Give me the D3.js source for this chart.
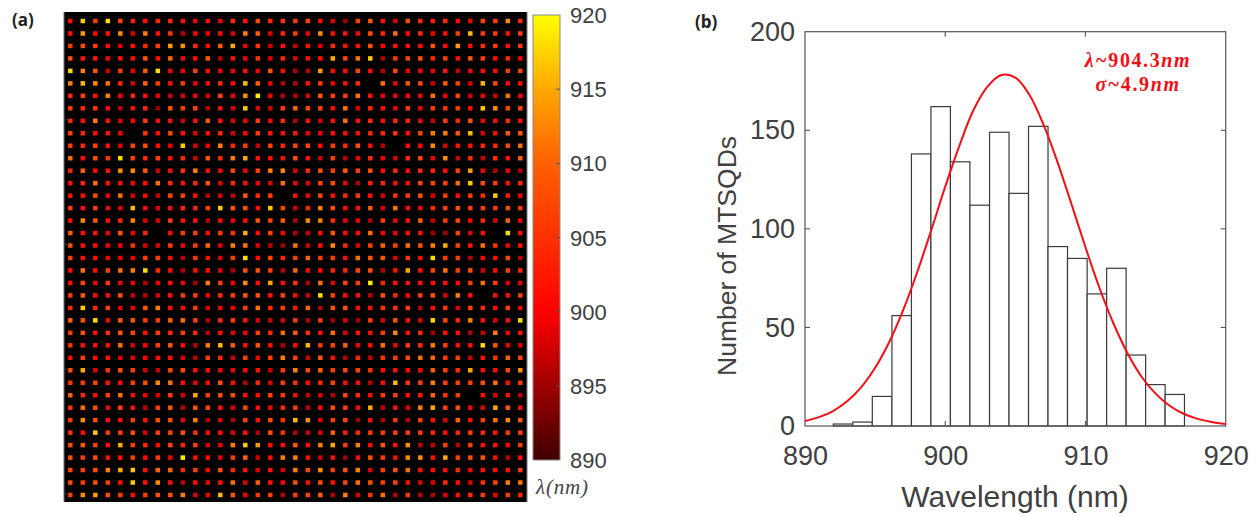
<!DOCTYPE html>
<html><head><meta charset="utf-8">
<script src="https://cdn.jsdelivr.net/npm/d3@7"></script>
<style>html,body{margin:0;padding:0;background:#fff;overflow:hidden}svg{display:block}</style>
</head><body>
<svg id="c" width="1260" height="517"></svg>
<script>
// Panel (a): peak wavelength (nm) of each dot, row by row; null = no dot visible
const N = null;
const dotWavelengths = [
[901,917,906,918,907,903,901,904,904,901,899,901,899,904,901,908,904,905,906,907,901,898,895,907,909,901,898,908,904,903,904,901,899,907,906,913,904],
[901,914,901,901,913,898,912,901,905,896,900,899,901,898,912,910,898,904,906,899,913,901,901,900,908,904,911,901,904,899,901,906,916,906,906,901,907],
[906,908,906,901,898,901,904,906,914,913,904,901,909,915,899,905,897,901,897,901,898,904,901,901,908,900,901,901,901,909,901,914,901,904,906,901,906],
[908,902,902,899,901,901,909,901,910,899,901,909,896,901,899,905,898,904,898,901,901,915,907,911,917,896,905,907,908,904,906,901,909,906,901,904,899],
[918,912,909,897,906,899,909,918,899,899,906,901,899,899,901,899,909,901,896,896,914,901,901,907,901,896,907,899,900,899,902,897,899,901,901,906,907],
[912,916,913,911,904,898,910,906,901,906,899,901,904,901,916,910,899,896,896,901,906,899,901,904,N,911,899,909,907,897,909,906,898,916,907,901,901],
[904,907,901,912,899,904,901,899,897,898,899,898,907,899,913,919,899,896,896,898,909,906,906,911,901,899,899,900,899,911,899,907,897,899,897,911,899],
[906,904,905,901,896,901,904,894,908,906,907,896,901,898,917,898,897,906,910,907,907,901,911,898,904,901,899,906,899,906,905,906,901,917,913,907,907],
[904,901,912,901,898,900,906,901,901,897,901,909,901,898,899,906,899,904,896,901,897,901,911,901,904,901,904,904,899,897,906,904,908,899,901,904,901],
[906,904,901,901,899,N,905,901,907,901,898,901,904,898,900,906,902,901,902,899,899,901,901,901,904,904,905,901,907,912,912,909,916,898,901,909,909],
[906,904,907,901,898,907,908,901,899,917,898,899,912,904,906,897,907,904,907,907,901,906,904,908,901,896,N,901,900,913,898,901,901,904,904,907,911],
[911,901,908,905,918,906,904,906,901,904,897,909,904,912,915,901,901,901,908,901,897,906,896,899,904,899,898,904,907,899,913,897,904,897,905,901,910],
[904,910,901,901,913,913,909,897,901,905,912,901,899,907,899,906,912,913,898,904,908,907,909,906,908,901,904,901,904,904,901,907,914,899,896,899,896],
[901,904,911,901,901,899,901,911,904,901,904,909,898,904,901,899,898,911,899,898,907,908,899,896,903,904,901,901,907,907,906,911,917,908,906,901,904],
[901,901,908,899,911,898,901,897,907,906,901,896,898,897,909,904,906,N,901,899,907,901,904,906,901,898,905,906,908,898,906,901,906,904,917,903,899],
[906,901,906,899,898,916,901,898,901,904,904,906,917,909,908,901,917,907,897,904,912,908,901,901,909,898,911,901,899,904,906,908,906,906,905,908,905],
[901,913,909,901,904,912,898,898,906,901,901,896,901,899,901,908,907,909,896,913,912,905,899,899,896,906,899,901,910,897,906,907,900,904,898,910,899],
[909,901,902,899,909,899,904,N,901,906,906,901,906,905,915,901,907,900,896,897,901,909,901,901,911,900,899,901,901,895,895,907,898,901,N,918,901],
[908,901,901,899,899,905,898,898,906,899,906,910,898,912,911,898,896,895,911,897,901,913,904,898,907,910,906,911,908,912,915,906,902,911,905,899,901],
[906,901,901,899,899,899,906,906,901,896,905,901,898,906,918,901,907,904,906,910,906,906,901,911,909,909,898,905,901,918,906,906,896,900,901,907,896],
[901,911,901,906,911,912,918,904,901,896,901,901,898,896,908,908,906,896,910,901,901,904,904,907,908,896,901,915,901,907,911,906,908,898,901,906,904],
[901,907,899,906,899,899,896,899,901,899,895,912,906,899,913,901,915,901,905,896,911,898,907,906,919,904,901,901,901,901,901,900,906,911,906,898,898],
[906,909,901,901,908,897,896,898,901,906,906,899,904,906,909,908,901,907,901,897,918,906,901,901,896,908,904,901,906,908,898,912,901,N,901,901,906],
[904,917,904,906,898,899,909,912,901,900,906,898,899,899,906,911,904,906,902,910,896,908,908,901,901,905,905,906,896,901,905,898,907,904,901,906,899],
[910,908,918,899,909,909,906,906,910,911,907,896,904,906,901,898,897,898,906,896,906,895,898,895,906,898,908,901,898,918,907,904,912,901,898,901,918],
[906,908,901,904,909,907,901,906,904,906,904,896,901,898,899,906,904,911,909,904,901,911,898,901,901,906,913,901,904,895,901,901,896,897,912,899,901],
[905,901,901,901,911,898,900,906,909,901,896,912,916,909,901,909,901,896,901,916,906,907,910,899,901,911,899,906,904,912,906,901,901,918,909,899,898],
[901,906,901,901,898,898,900,901,901,898,896,906,904,897,906,899,906,912,906,897,909,901,896,904,897,905,906,908,911,910,906,906,897,901,905,910,907],
[908,915,898,905,908,906,898,897,907,908,901,901,899,899,900,901,897,906,912,907,910,906,907,907,905,901,901,901,900,909,906,904,915,901,901,907,913],
[905,906,907,901,901,906,908,913,911,901,899,901,908,901,896,904,898,906,905,901,904,907,901,901,896,901,916,906,906,912,906,906,906,908,911,901,906],
[910,904,901,906,911,901,899,898,906,898,915,906,908,908,901,901,907,906,901,897,898,896,907,904,901,906,906,901,902,910,905,906,N,901,898,901,896],
[905,911,908,899,906,901,896,906,909,896,908,907,901,898,907,901,899,904,906,896,901,908,906,901,915,897,901,898,912,915,906,908,900,898,915,909,901],
[906,913,908,901,901,906,901,908,908,899,912,896,898,896,906,901,908,905,916,913,898,906,907,895,901,896,905,896,906,901,898,910,901,906,911,913,909],
[905,901,917,906,906,908,898,906,907,908,905,901,901,898,901,896,908,905,896,897,898,910,903,904,906,906,906,906,906,904,901,904,906,904,902,906,906],
[908,909,907,901,915,906,904,901,907,904,906,898,899,912,917,914,901,901,909,901,912,915,906,912,901,909,901,913,896,897,906,896,906,901,901,900,906],
[908,906,908,901,901,906,901,906,899,919,901,901,898,906,910,897,901,912,912,901,897,901,895,901,908,906,901,913,913,901,915,906,908,909,901,896,901],
[907,906,908,912,915,917,901,910,910,904,906,900,908,904,901,898,901,898,912,907,913,906,908,912,898,906,908,911,901,901,901,904,899,901,901,901,906],
[908,906,908,906,901,917,901,913,901,896,901,899,901,911,898,910,901,900,908,901,908,901,907,911,908,906,906,901,898,898,904,901,898,905,907,912,911],
[906,913,914,908,906,901,906,908,908,912,898,899,916,909,899,905,906,896,906,907,910,896,912,898,905,911,896,906,896,896,898,901,904,906,899,906,904]
];
const colorbarTicks = [890,895,900,905,910,915,920];
const colorStops = [890,900,910,915,920];
const colorValues = ["#400000","#ff0000","#ff6000","#ffa800","#ffff00"];

// Panel (b): histogram and fitted curve
const binEdges = [892.02,893.41,894.8,896.2,897.59,898.98,900.37,901.76,903.16,904.55,905.94,907.33,908.72,910.12,911.51,912.9,914.29,915.68,917.06];
const binCounts = [1,2,15,56,138,162,134,112,149,118,152,91,85,67,80,36,21,16];
const curveWavelengths = [890,891,892,893,894,895,896,897,898,899,900,901,902,903,904,905,906,907,908,909,910,911,912,913,914,915,916,917,918,919,920];
const curveCounts = [2.5,4.5,7.6,12.5,19.6,29.5,42.5,58.8,78,99.3,121.4,142,160,172,178,176.7,168,153,134,112.6,90.7,70,52,36.9,25,16.4,10.3,6.2,3.6,2,1];
const xTicks = [890,900,910,920];
const yTicks = [0,50,100,150,200];

const svg = d3.select("#c");
const SANS = "'Liberation Sans',Arial,sans-serif";
const AXIS = "#555", TEXT = "#404040";

// ---------- defs
const defs = svg.append("defs");
defs.append("filter").attr("id","soft").attr("x","-50%").attr("y","-50%").attr("width","200%").attr("height","200%")
  .append("feGaussianBlur").attr("stdDeviation",0.55);
const color = d3.scaleLinear().domain(colorStops).range(colorValues);
const grad = defs.append("linearGradient").attr("id","bar").attr("x1",0).attr("x2",0).attr("y1",1).attr("y2",0);
const cbExtent = d3.extent(colorStops);
colorStops.forEach(v => grad.append("stop")
  .attr("offset",(v-cbExtent[0])/(cbExtent[1]-cbExtent[0])).attr("stop-color",color(v)));

// ---------- panel (a)
const px = d3.scalePoint().domain(d3.range(dotWavelengths[0].length)).range([70.3,520.3]);
const py = d3.scalePoint().domain(d3.range(dotWavelengths.length)).range([21,495]);
const a = svg.append("g");
a.append("rect").attr("x",64).attr("y",12).attr("width",463).attr("height",490).attr("fill","#000");
a.append("line").attr("x1",64).attr("x2",64).attr("y1",12).attr("y2",502).attr("stroke","#777").attr("stroke-width",1);
a.append("line").attr("x1",527).attr("x2",527).attr("y1",12).attr("y2",502).attr("stroke","#777").attr("stroke-width",1);
const SZ = 4.5;
a.append("g").attr("filter","url(#soft)").selectAll("g").data(dotWavelengths).join("g")
  .attr("transform",(d,i)=>`translate(0,${py(i)})`)
  .selectAll("rect").data(d=>d.map((v,i)=>({v,i})).filter(o=>o.v!==null)).join("rect")
  .attr("x",o=>px(o.i)-SZ/2).attr("y",-SZ/2).attr("width",SZ).attr("height",SZ).attr("fill",o=>color(o.v));
a.append("g").selectAll("line").data([8,18,28,38]).join("line")
  .attr("x1",64).attr("x2",69).attr("y1",r=>py(r)-1).attr("y2",r=>py(r)-1).attr("stroke","#3a3a3a");

// colorbar
const cy = d3.scaleLinear().domain([890,920]).range([460,15]);
a.append("rect").attr("x",533).attr("y",cy(920)).attr("width",27).attr("height",cy(890)-cy(920))
  .attr("fill","url(#bar)").attr("stroke","#888").attr("stroke-width",1);
const cbTicks = a.append("g").selectAll("g").data(colorbarTicks).join("g").attr("transform",v=>`translate(0,${cy(v)})`);
cbTicks.filter(v=>v>890&&v<920).append("line").attr("x1",556).attr("x2",560).attr("stroke","#555");
cbTicks.append("text").attr("x",570).attr("y",8).text(v=>v)
  .attr("font-family",SANS).attr("font-size",22).attr("fill",TEXT);
a.append("text").attr("x",536).attr("y",494).attr("font-family","'Liberation Serif',serif").attr("font-style","italic")
  .attr("font-size",21).attr("fill","#444").attr("letter-spacing",0.8).text("λ(nm)");

svg.append("text").attr("x",12).attr("y",26).attr("font-family","'Open Sans',sans-serif").attr("font-weight",700).attr("font-size",17).attr("fill","#222").text("(a)");
svg.append("text").attr("x",695).attr("y",28).attr("font-family","'Open Sans',sans-serif").attr("font-weight",700).attr("font-size",17).attr("fill","#222").text("(b)");

// ---------- panel (b)
const x = d3.scaleLinear().domain([890,920]).range([805,1225.7]);
const y = d3.scaleLinear().domain([0,200]).range([426,31.7]);
const b = svg.append("g");
b.append("g").selectAll("rect").data(binCounts).join("rect")
  .attr("x",(d,i)=>x(binEdges[i])).attr("width",(d,i)=>x(binEdges[i+1])-x(binEdges[i]))
  .attr("y",d=>y(d)).attr("height",d=>y(0)-y(d))
  .attr("fill","#fff").attr("stroke","#3a3a3a").attr("stroke-width",1.2);
b.append("rect").attr("x",x(890)).attr("y",y(200)).attr("width",x(920)-x(890)).attr("height",y(0)-y(200))
  .attr("fill","none").attr("stroke",AXIS).attr("stroke-width",1.2);
const xAxis = d3.axisBottom(x).tickValues(xTicks).tickSize(0).tickPadding(20);
const yAxis = d3.axisLeft(y).tickValues(yTicks).tickSize(0).tickPadding(10);
const gx = b.append("g").attr("transform",`translate(0,${y(0)})`).call(xAxis);
const gy = b.append("g").attr("transform",`translate(${x(890)},0)`).call(yAxis);
[gx,gy].forEach(g=>{g.select(".domain").remove();
  g.selectAll("text").attr("font-family",SANS).attr("font-size",27).attr("fill",TEXT);});
xTicks.slice(1,-1).forEach(v=>{[[y(0),y(0)-5],[y(200),y(200)+5]].forEach(([p,q])=>
  b.append("line").attr("x1",x(v)).attr("x2",x(v)).attr("y1",p).attr("y2",q).attr("stroke",AXIS).attr("stroke-width",1.1));});
yTicks.slice(1,-1).forEach(v=>{[[x(890),x(890)+5],[x(920),x(920)-5]].forEach(([p,q])=>
  b.append("line").attr("y1",y(v)).attr("y2",y(v)).attr("x1",p).attr("x2",q).attr("stroke",AXIS).attr("stroke-width",1.1));});
b.append("path").datum(curveWavelengths.map((w,i)=>[w,curveCounts[i]]))
  .attr("d",d3.line().x(d=>x(d[0])).y(d=>y(d[1])).curve(d3.curveCatmullRom.alpha(0.5)))
  .attr("fill","none").attr("stroke","#f01018").attr("stroke-width",2);
b.append("text").attr("x",1015).attr("y",507).attr("text-anchor","middle").attr("font-family",SANS)
  .attr("font-size",30).attr("fill",TEXT).text("Wavelength (nm)");
b.append("text").attr("transform","translate(736,256) rotate(-90)").attr("text-anchor","middle").attr("font-family",SANS)
  .attr("font-size",26.5).attr("fill",TEXT).text("Number of MTSQDs");

const fitLabels = [["λ~","904.3","nm",67],["σ~","4.9","nm",91]];
fitLabels.forEach(([s,n,u,yy])=>{
  const t = b.append("text").attr("x",1138).attr("y",yy).attr("text-anchor","middle")
    .attr("font-family","'Liberation Serif',serif").attr("font-weight",700).attr("font-size",20)
    .attr("letter-spacing",1.6).attr("fill","#f01018");
  t.append("tspan").attr("font-style","italic").text(s);
  t.append("tspan").text(n);
  t.append("tspan").attr("font-style","italic").text(u);
});
</script>
</body></html>
